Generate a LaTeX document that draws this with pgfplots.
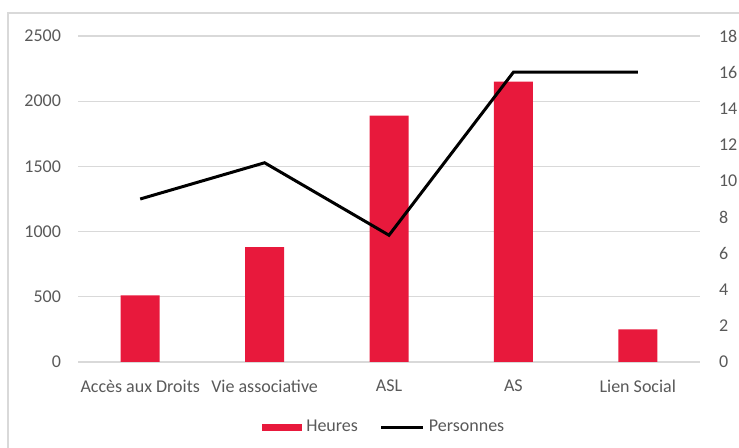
\documentclass[border=0pt]{standalone}
\usepackage{fontspec}
\setmainfont{Carlito}
\usepackage{pgfplots}
\pgfplotsset{compat=1.18}
\definecolor{barred}{RGB}{232,25,60}
\definecolor{txt}{RGB}{89,89,89}
\definecolor{gridc}{RGB}{217,217,217}

\pgfplotsset{
  base/.style={
    at={(39pt,43pt)}, anchor=south west,
    scale only axis, width=311pt, height=163pt,
    xmin=-0.5, xmax=4.5,
    axis line style={draw=none},
    major tick length=0pt,
    tick label style={font=\fontsize{9}{10}\selectfont, text=txt},
    /pgf/number format/assume math mode=true,
    /pgf/number format/1000 sep={},
    scaled y ticks=false,
  }
}

\begin{document}
\begin{tikzpicture}
\useasboundingbox (0,0) rectangle (369.5pt,224pt);
\draw[gridc, line width=0.75pt] (4pt,-2pt) -- (4pt,217.5pt) -- (372pt,217.5pt);

% Heures (axe de gauche)
\begin{axis}[base,
  ymin=0, ymax=2500, ytick={0,500,...,2500},
  xtick={0,...,4},
  xticklabels={Accès aux Droits, Vie associative, ASL, AS, Lien Social},
  xticklabel shift=5.5pt,
  yticklabel shift=5pt,
  ymajorgrids, grid style={gridc, line width=0.6pt},
  legend style={at={(0.494,-0.2)}, anchor=center, draw=none, fill=none,
    legend columns=2, font=\fontsize{9}{10}\selectfont, text=txt,
    /tikz/every even column/.append style={column sep=9pt}},
]
\addplot[ybar, bar width=19.5pt, fill=barred, draw=none,
  legend image code/.code={\fill[barred] (0pt,-1.75pt) rectangle (20pt,1.75pt);}]
  coordinates {(0,510) (1,880) (2,1890) (3,2150) (4,250)};
\addlegendentry{Heures}
\addlegendimage{legend image code/.code={\draw[black,line width=1.5pt] (0pt,0pt) -- (21pt,0pt);}}
\addlegendentry{Personnes}
\end{axis}

% Personnes (axe de droite)
\begin{axis}[base,
  ymin=0, ymax=18, ytick={0,2,...,18},
  axis y line*=right,
  xtick=\empty,
  yticklabel shift=6pt,
  yticklabel style={anchor=west},
]
\addplot[black, line width=1.5pt, line join=miter]
  coordinates {(0,9) (1,11) (2,7) (3,16) (4,16)};
\end{axis}
\end{tikzpicture}
\end{document}
